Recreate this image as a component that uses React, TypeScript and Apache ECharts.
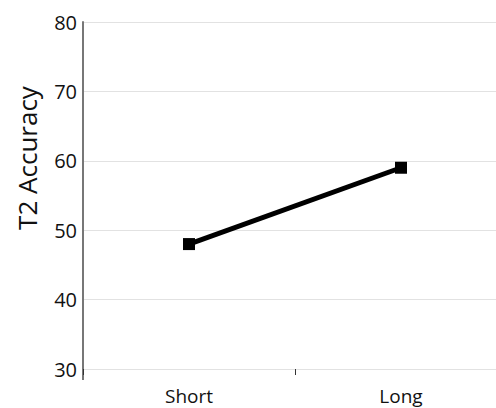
import React, { useEffect, useRef } from "react";
import * as echarts from "echarts";

const categories = ["Short", "Long"];
const accuracy = [48, 59];
const yTicks = { min: 30, max: 80, interval: 10 };
const yTitle = "T2 Accuracy";

export default function App() {
  const ref = useRef<HTMLDivElement>(null);
  useEffect(() => {
    if (!ref.current) return;
    const chart = echarts.init(ref.current, null, { renderer: "svg" });
    const font = "Open Sans";
    chart.setOption({
      animation: false,
      grid: {
        left: 83,
        width: 424,
        top: 22,
        bottom: 39,
        containLabel: false,
        outerBoundsMode: "none",
      },
      xAxis: {
        type: "category",
        data: categories,
        boundaryGap: true,
        axisLine: { show: false },
        axisTick: { show: true, length: 6, lineStyle: { color: "#333", width: 1 } },
        axisLabel: { color: "#111", fontSize: 19, fontFamily: font, margin: 17 },
        splitLine: { show: false },
      },
      yAxis: {
        type: "value",
        min: yTicks.min,
        max: yTicks.max,
        interval: yTicks.interval,
        axisLine: { show: true, lineStyle: { color: "#777", width: 2 } },
        axisTick: { show: false },
        axisLabel: { color: "#111", fontSize: 20, fontFamily: font, margin: 6 },
        splitLine: { show: true, lineStyle: { color: "#e2e2e2", width: 1 } },
      },
      graphic: [
        {
          type: "line",
          shape: { x1: 83, y1: 369, x2: 83, y2: 380 },
          style: { stroke: "#777", lineWidth: 2 },
        },
        {
          type: "text",
          x: 27,
          y: 158,
          rotation: Math.PI / 2,
          style: {
            text: yTitle,
            fill: "#111",
            fontSize: 26,
            fontFamily: font,
            textAlign: "center",
            textVerticalAlign: "middle",
          },
        },
      ],
      series: [
        {
          type: "line",
          data: accuracy,
          symbol: "rect",
          symbolSize: 12,
          lineStyle: { color: "#000", width: 5 },
          itemStyle: { color: "#000" },
        },
      ],
    });
    return () => chart.dispose();
  }, []);
  return <div ref={ref} style={{ width: 496, height: 408, position: "absolute", left: 0, top: 0 }} />;
}
